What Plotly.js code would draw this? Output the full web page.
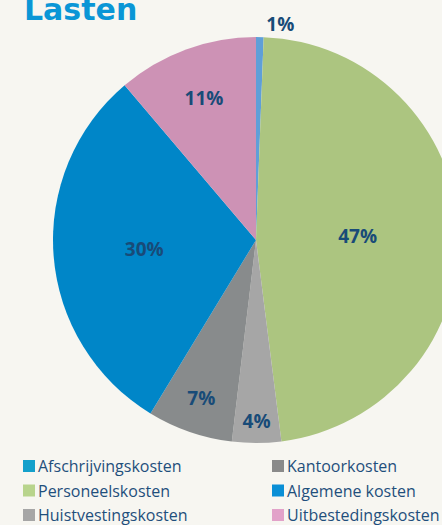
<!DOCTYPE html>
<html>
<head>
<meta charset="utf-8">
<script src="https://cdn.plot.ly/plotly-3.0.1.min.js"></script>
<style>
  html, body { margin: 0; padding: 0; overflow: hidden; background: #f7f6f1; width: 442px; height: 525px; }
  #chart { width: 520px; height: 525px; }
</style>
</head>
<body>
<div id="chart"></div>
<script>
// Data
const categories = ['Afschrijvingskosten', 'Personeelskosten', 'Huistvestingskosten', 'Kantoorkosten', 'Algemene kosten', 'Uitbestedingskosten'];
const values = [0.6, 47.4, 3.9, 6.8, 30.1, 11.2];
const sliceColors = ['#5f9fd8', '#acc580', '#a6a6a6', '#888b8c', '#0086c8', '#cd92b5'];
const legendColors = ['#14a0cb', '#b8d48c', '#a6a6a6', '#8a8a8a', '#0a8fd6', '#e2a2c9'];
// legend layout order: left column then right column
const legendOrder = [0, 1, 2, 3, 4, 5];

const W = 520, H = 525;
const px = x => x / W;
const py = y => 1 - y / H;

const pie = {
  type: 'pie',
  labels: categories,
  values: values,
  sort: false,
  direction: 'clockwise',
  rotation: 0,
  marker: { colors: sliceColors, line: { width: 0 } },
  texttemplate: '%{percent:.0%}',
  textposition: ['outside', 'inside', 'inside', 'inside', 'inside', 'inside'],
  insidetextorientation: 'horizontal',
  textfont: { family: 'Open Sans', size: 19, color: '#184b78', weight: 'bold' },
  hoverinfo: 'label+percent',
  showlegend: false,
  automargin: false,
  domain: { x: [px(53), px(459)], y: [py(443), py(37)] }
};

const shapes = [];
const annotations = [];
legendOrder.forEach((idx, k) => {
  const col = Math.floor(k / 3), row = k % 3;
  const x0 = col === 0 ? 23 : 272;
  const yc = 466 + row * 24.5;
  shapes.push({
    type: 'rect', xref: 'paper', yref: 'paper',
    x0: px(x0), x1: px(x0 + 12), y0: py(yc + 6), y1: py(yc - 6),
    fillcolor: legendColors[idx], line: { width: 0 }
  });
  annotations.push({
    xref: 'paper', yref: 'paper', x: px(x0 + 13), y: py(yc),
    xanchor: 'left', yanchor: 'middle', showarrow: false,
    text: categories[idx],
    font: { family: 'Open Sans', size: 16, color: '#1f4f7c' }
  });
});

const layout = {
  width: W, height: H,
  margin: { l: 0, r: 0, t: 0, b: 0 },
  paper_bgcolor: '#f7f6f1',
  plot_bgcolor: '#f7f6f1',
  title: {
    text: 'Lasten',
    x: px(24), xanchor: 'left', xref: 'paper',
    y: py(9), yanchor: 'middle', yref: 'paper',
    font: { family: 'DejaVu Sans', size: 30, color: '#0a96d6', weight: 'bold' }
  },
  shapes: shapes,
  annotations: annotations
};

Plotly.newPlot('chart', [pie], layout, { staticPlot: true, displayModeBar: false });
</script>
</body>
</html>
